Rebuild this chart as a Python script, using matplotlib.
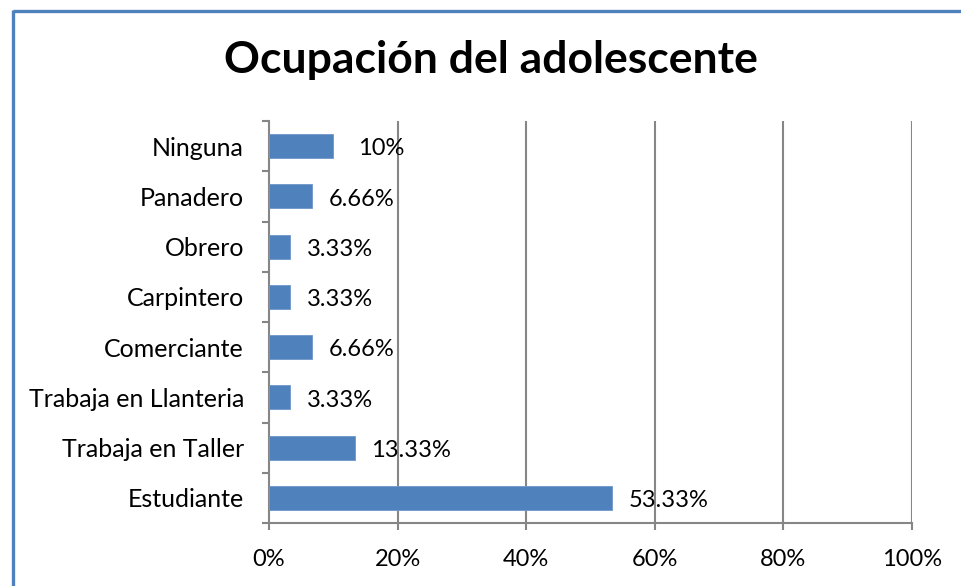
import matplotlib
matplotlib.use("Agg")
import matplotlib.pyplot as plt
from matplotlib.lines import Line2D
import numpy as np

categories = ["Estudiante", "Trabaja en Taller", "Trabaja en Llanteria", "Comerciante",
              "Carpintero", "Obrero", "Panadero", "Ninguna"]
values = [53.33, 13.33, 3.33, 6.66, 3.33, 3.33, 6.66, 10]
labels = ["53.33%", "13.33%", "3.33%", "6.66%", "3.33%", "3.33%", "6.66%", "10%"]
xticks = [0, 20, 40, 60, 80, 100]
xticklabels = ["0%", "20%", "40%", "60%", "80%", "100%"]

plt.rcParams['font.family'] = ['Lato', 'DejaVu Sans']

fig = plt.figure(figsize=(9.61, 5.86), dpi=100)
ax = fig.add_axes([269/961, 1-523/586, (912-269)/961, (523-121)/586])

grid_c = "#868686"
y = np.arange(len(categories))
ax.barh(y, values, height=0.48, color="#4F81BD", edgecolor="#6F97CB", linewidth=0.6, zorder=3)

for yi, v, lab in zip(y, values, labels):
    off = 18 if lab == "10%" else 12
    ax.annotate(lab, (v, yi), xytext=(off, -2), textcoords="offset points",
                ha="left", va="center", fontsize=17, color="black", zorder=4)

ax.set_xlim(0, 100)
ax.set_ylim(-0.5, len(categories) - 0.5)
ax.set_xticks(xticks)
ax.set_xticklabels(xticklabels)
ax.set_yticks(y)
ax.set_yticklabels(categories)
ax.set_yticks(np.arange(-0.5, len(categories)), minor=True)

ax.tick_params(axis='y', which='major', length=0, pad=18, labelsize=18)
ax.tick_params(axis='y', which='minor', length=5, width=1.5, color=grid_c, direction='out')
ax.tick_params(axis='x', which='major', length=5, width=1.5, color=grid_c, pad=14, labelsize=17)

for v in xticks[1:]:
    ax.axvline(v, color=grid_c, linewidth=1.5, zorder=1)

for s in ["top", "right"]:
    ax.spines[s].set_visible(False)
for s in ["left", "bottom"]:
    ax.spines[s].set_color(grid_c)
    ax.spines[s].set_linewidth(1.5)

fig.text(491/961, 1-60/586, "Ocupación del adolescente", ha="center", va="center",
         fontsize=32, fontweight="bold")

bx, by = 13/961, 1 - 11/586
fig.add_artist(Line2D([bx, 1.0], [by, by], transform=fig.transFigure,
                      color="#4F81BD", linewidth=2.4, solid_capstyle="butt"))
fig.add_artist(Line2D([bx, bx], [by + 1.2/586, 0.0], transform=fig.transFigure,
                      color="#4F81BD", linewidth=2.4, solid_capstyle="butt"))

fig.savefig("out.png", dpi=100)
